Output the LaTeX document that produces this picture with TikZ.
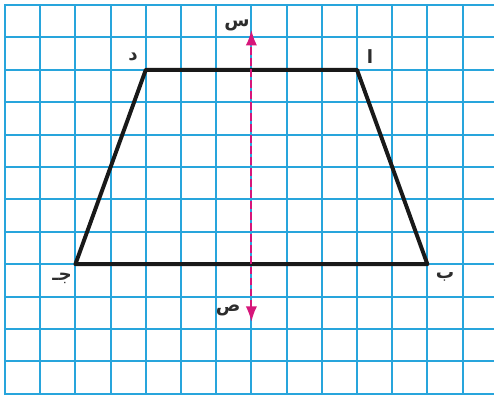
\documentclass[tikz,border=0pt]{standalone}
\usepackage{fontspec}
\usetikzlibrary{arrows.meta}
\TeXXeTstate=1
\newfontfamily\arabicfont[Script=Arabic]{DejaVu Sans}
\definecolor{gridBlue}{RGB}{40,165,220}
\definecolor{axisPink}{RGB}{214,22,122}
\definecolor{labelGray}{RGB}{45,45,45}

\begin{document}
\begin{tikzpicture}[x=0.88cm,y=-0.81cm,
  letter/.style={inner sep=0pt,font=\arabicfont\bfseries\fontsize{13}{13}\selectfont,text=labelGray},
  side/.style={line width=2.8pt,line join=round,black!90},
  axis/.style={axisPink,line width=1.4pt,dash pattern=on 5.5pt off 2.3pt,{Latex[length=11pt,width=8pt]}-{Latex[length=11pt,width=8pt]}}]
\useasboundingbox (-0.142,-0.154) rectangle (13.892,12.099);
% squared paper
\foreach \i in {0,...,13}
  \draw[gridBlue,line width=1.5pt] (\i,0) -- (\i,12);
\foreach \j in {0,...,12}
  \draw[gridBlue,line width=1.5pt] (-0.03,\j) -- (13.892,\j);

% trapezoid
\coordinate (A) at (10,2);
\coordinate (B) at (12,8);
\coordinate (J) at (2,8);
\coordinate (D) at (4,2);
\draw[side] (A) -- (D) -- (J) -- (B) -- cycle;

% axis of symmetry
\coordinate (S) at (7,0.77);
\coordinate (P) at (7,9.78);
\draw[axis] (P) -- (S);

% labels
\node[letter] (lA) at (10.37,1.6) {\beginR ا\endR};
\node[letter] (lB) at (12.5,8.4) {\beginR ب\endR};
\node[letter] (lJ) at (1.62,8.43) {\beginR جـ\endR};
\node[letter] (lD) at (3.64,1.6) {\beginR د\endR};
\node[letter] (lS) at (6.59,0.62) {\beginR س\endR};
\node[letter] (lP) at (6.34,9.44) {\beginR ص\endR};
\end{tikzpicture}
\end{document}
